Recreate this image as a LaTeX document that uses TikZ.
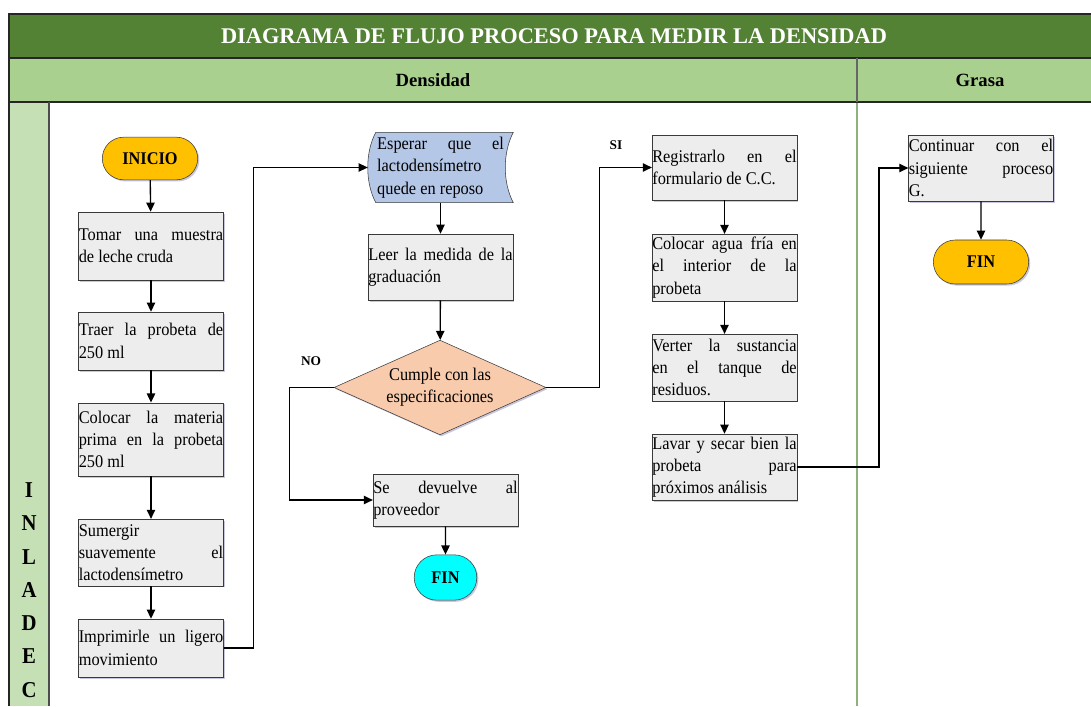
\documentclass[tikz,border=0pt]{standalone}
\usepackage{fontspec}
\setmainfont{Liberation Serif}
\newfontfamily\boxserif{Liberation Serif}[FakeStretch=0.915]
\usepackage{tikz}
\usetikzlibrary{arrows.meta,shapes.geometric,shapes.misc,shadows,backgrounds}
\definecolor{tgreen}{HTML}{548235}
\definecolor{hgreen}{HTML}{A9D08E}
\definecolor{lgreen}{HTML}{C5E0B4}
\definecolor{boxgray}{HTML}{EDEDED}
\definecolor{edge}{HTML}{3A3A3A}
\definecolor{gold}{HTML}{FFC000}
\definecolor{steel}{HTML}{B4C7E7}
\definecolor{peach}{HTML}{F8CBAD}
\definecolor{aqua}{HTML}{00FFFF}
\newcommand{\boxfont}{\boxserif\fontsize{13.4pt}{16.7pt}\selectfont\hyphenpenalty=10000 \exhyphenpenalty=10000 \tolerance=9999 }

\begin{document}
\begin{tikzpicture}[x=0.75pt,y=-0.75pt,
  sombra/.style={drop shadow={shadow xshift=1.2pt,shadow yshift=-1.2pt,opacity=0.22,fill=black!60!blue}},
  paso/.style={draw=edge,fill=boxgray,sombra,text width=108.3pt,inner xsep=0.1pt,inner ysep=1pt,align=justify,font=\boxfont},
  term/.style={rounded rectangle,draw=edge,sombra,font=\boxfont\bfseries,inner sep=1pt},
  decision/.style={diamond,aspect=2.24,draw=edge,fill=peach,sombra,inner sep=0pt,minimum width=159pt,minimum height=71pt,align=center,font=\boxfont},
  con/.style={-{Triangle[length=2.4mm,width=2.2mm]},line width=1pt},
  rama/.style={font=\fontsize{10pt}{12pt}\selectfont\bfseries},
  letra/.style={font=\boxserif\fontsize{17pt}{18pt}\selectfont\bfseries}]
\useasboundingbox (0,0) rectangle (1091,706);
\fill[tgreen] (9,14) rectangle (1091,58); \fill[hgreen] (9,58) rectangle (1091,102); \fill[lgreen] (9,102) rectangle (49,706);
\draw[hgreen!85!black,line width=1.4pt] (857,102) -- (857,706);
\draw[black!85,line width=0.9pt] (1091,14) -- (9,14) -- (9,706); \draw[black!85,line width=0.9pt] (9,58) -- (1091,58); \draw[black!85,line width=0.9pt] (9,102) -- (1091,102);
\draw[black!60,line width=0.8pt] (857,58) -- (857,102); \draw[black!70,line width=0.8pt] (49,102) -- (49,706);
\node[font=\fontsize{16.8pt}{18pt}\selectfont\bfseries,text=white] (titulo) at (554,36) {DIAGRAMA DE FLUJO PROCESO PARA MEDIR LA DENSIDAD};
\node[font=\fontsize{14pt}{16pt}\selectfont\bfseries] (dens) at (433,80) {Densidad};
\node[font=\fontsize{14pt}{16pt}\selectfont\bfseries] (gras) at (980,80) {Grasa};
\foreach \l [count=\i] in {I,N,L,A,D,E,C} \node[letra] (lane\i) at (29,456.7+33.3*\i) {\l};

\node[term,fill=gold,minimum width=73.5pt,minimum height=32pt] (ini) at (150,158.5) {INICIO};
\node[paso,minimum height=51pt] (tom) at (151,246) {Tomar una muestra\linebreak de leche cruda};
\node[paso,minimum height=43.5pt] (tra) at (151,341) {Traer la probeta de\linebreak 250 ml};
\node[paso,minimum height=55pt] (col) at (151,439.5) {Colocar la materia\linebreak prima en la probeta\linebreak 250 ml};
\node[paso,minimum height=50pt] (sum) at (151,552.5) {Sumergir\linebreak suavemente el\linebreak lactodensímetro};
\node[paso,minimum height=43.5pt] (imp) at (151,648) {Imprimirle un ligero\linebreak movimiento};

\node[text width=95pt,minimum width=108.75pt,minimum height=49pt,inner xsep=1pt,align=justify,font=\boxfont] (esp) at (440.5,167.5) {Esperar que el\linebreak lactodensímetro\linebreak quede en reposo};
\begin{scope}[on background layer]
\draw[edge,fill=steel] ([xshift=6pt]esp.north west) -- (esp.north east) .. controls +(-8pt,-15pt) and +(-8pt,15pt) .. (esp.south east) -- ([xshift=6pt]esp.south west) .. controls +(-8pt,15pt) and +(-8pt,-15pt) .. ([xshift=6pt]esp.north west) -- cycle;
\end{scope}
\node[paso,minimum height=49.5pt] (lee) at (440.5,267) {Leer la medida de la\linebreak graduación};
\node[decision] (cum) at (440,387.5) {Cumple con las\\especificaciones};
\node[paso,minimum height=39pt] (dev) at (445.5,500) {Se devuelve al\linebreak proveedor};
\node[term,fill=aqua,minimum width=49pt,minimum height=34pt] (fin1) at (445.5,577.5) {FIN};

\node[paso,minimum height=49pt] (reg) at (724.5,167.5) {Registrarlo en el\linebreak formulario de C.C.};
\node[paso,minimum height=50pt] (agu) at (724.5,267.5) {Colocar agua fría en\linebreak el interior de la\linebreak probeta};
\node[paso,minimum height=50pt] (ver) at (724.5,367.5) {Verter la sustancia\linebreak en el tanque de\linebreak residuos.};
\node[paso,minimum height=49.5pt] (lav) at (724.5,467) {Lavar y secar bien la\linebreak probeta para\linebreak próximos análisis};
\node[paso,minimum height=49.5pt] (cnt) at (981,168) {Continuar con el\linebreak siguiente proceso\linebreak G.};
\node[term,fill=gold,minimum width=73.5pt,minimum height=33pt] (fin2) at (981,262) {FIN};

\node[rama] (no) at (311,361) {NO};
\node[rama] (si) at (616,145) {SI};

\draw[con] (ini) -- (tom); \draw[con] (tom) -- (tra); \draw[con] (tra) -- (col); \draw[con] (col) -- (sum); \draw[con] (sum) -- (imp);
\draw[con] (imp.east) -- ++(30,0) |- (esp.west);
\draw[con] (esp) -- (lee); \draw[con] (lee) -- (cum);
\draw[con] (cum.west) -- ++(-44,0) |- (dev.west);
\draw[con] (dev) -- (fin1);
\draw[con] (cum.east) -- ++(53,0) |- (reg.west);
\draw[con] (reg) -- (agu); \draw[con] (agu) -- (ver); \draw[con] (ver) -- (lav);
\draw[con] (lav.east) -- ++(82,0) |- (cnt.west);
\draw[con] (cnt) -- (fin2);
\end{tikzpicture}
\end{document}
